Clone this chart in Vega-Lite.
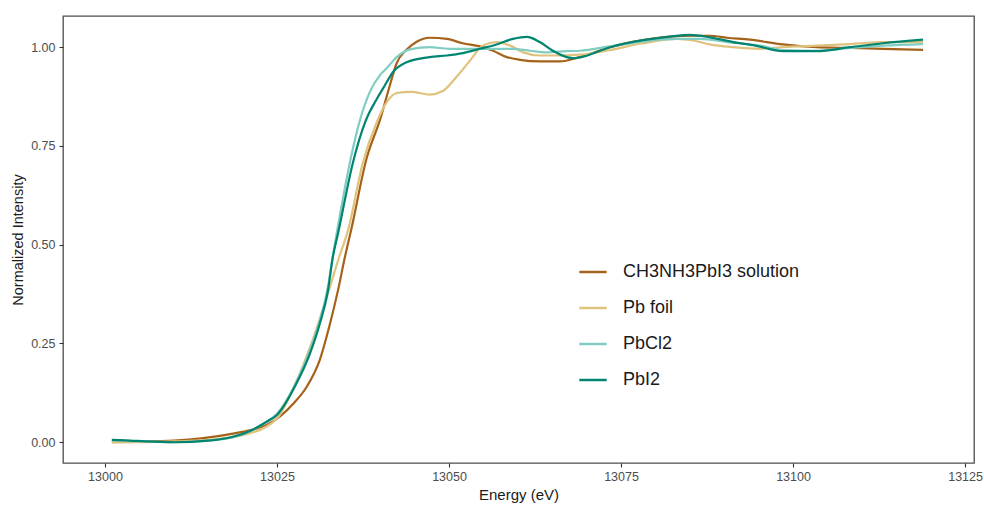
{
  "$schema": "https://vega.github.io/schema/vega-lite/v6.json",
  "width": 911,
  "height": 447,
  "autosize": {"type": "none"},
  "padding": {"left": 63, "top": 16, "right": 10, "bottom": 42},
  "background": "white",
  "config": {
    "font": "Liberation Sans",
    "view": {"stroke": "#4d4d4d", "strokeWidth": 1.3}
  },
  "data": {"values": [
    {"sample": "CH3NH3PbI3 solution", "energy": 13001, "intensity": 0.000},
    {"sample": "CH3NH3PbI3 solution", "energy": 13005, "intensity": 0.001},
    {"sample": "CH3NH3PbI3 solution", "energy": 13010, "intensity": 0.004},
    {"sample": "CH3NH3PbI3 solution", "energy": 13014, "intensity": 0.010},
    {"sample": "CH3NH3PbI3 solution", "energy": 13018.6, "intensity": 0.022},
    {"sample": "CH3NH3PbI3 solution", "energy": 13021, "intensity": 0.030},
    {"sample": "CH3NH3PbI3 solution", "energy": 13023.5, "intensity": 0.044},
    {"sample": "CH3NH3PbI3 solution", "energy": 13025.4, "intensity": 0.065},
    {"sample": "CH3NH3PbI3 solution", "energy": 13027.5, "intensity": 0.100},
    {"sample": "CH3NH3PbI3 solution", "energy": 13029.3, "intensity": 0.140},
    {"sample": "CH3NH3PbI3 solution", "energy": 13031.25, "intensity": 0.210},
    {"sample": "CH3NH3PbI3 solution", "energy": 13032.6, "intensity": 0.293},
    {"sample": "CH3NH3PbI3 solution", "energy": 13033.9, "intensity": 0.387},
    {"sample": "CH3NH3PbI3 solution", "energy": 13034.8, "intensity": 0.463},
    {"sample": "CH3NH3PbI3 solution", "energy": 13035.8, "intensity": 0.539},
    {"sample": "CH3NH3PbI3 solution", "energy": 13038.0, "intensity": 0.717},
    {"sample": "CH3NH3PbI3 solution", "energy": 13040.0, "intensity": 0.818},
    {"sample": "CH3NH3PbI3 solution", "energy": 13041.4, "intensity": 0.903},
    {"sample": "CH3NH3PbI3 solution", "energy": 13042.4, "intensity": 0.960},
    {"sample": "CH3NH3PbI3 solution", "energy": 13043.85, "intensity": 0.994},
    {"sample": "CH3NH3PbI3 solution", "energy": 13045.3, "intensity": 1.014},
    {"sample": "CH3NH3PbI3 solution", "energy": 13047.2, "intensity": 1.024},
    {"sample": "CH3NH3PbI3 solution", "energy": 13049.7, "intensity": 1.021},
    {"sample": "CH3NH3PbI3 solution", "energy": 13052.0, "intensity": 1.010},
    {"sample": "CH3NH3PbI3 solution", "energy": 13054.5, "intensity": 1.002},
    {"sample": "CH3NH3PbI3 solution", "energy": 13056.4, "intensity": 0.991},
    {"sample": "CH3NH3PbI3 solution", "energy": 13058.4, "intensity": 0.975},
    {"sample": "CH3NH3PbI3 solution", "energy": 13060.3, "intensity": 0.968},
    {"sample": "CH3NH3PbI3 solution", "energy": 13063.2, "intensity": 0.964},
    {"sample": "CH3NH3PbI3 solution", "energy": 13066.1, "intensity": 0.964},
    {"sample": "CH3NH3PbI3 solution", "energy": 13069.0, "intensity": 0.975},
    {"sample": "CH3NH3PbI3 solution", "energy": 13073.4, "intensity": 1.000},
    {"sample": "CH3NH3PbI3 solution", "energy": 13078.2, "intensity": 1.018},
    {"sample": "CH3NH3PbI3 solution", "energy": 13082.1, "intensity": 1.027},
    {"sample": "CH3NH3PbI3 solution", "energy": 13085.5, "intensity": 1.029},
    {"sample": "CH3NH3PbI3 solution", "energy": 13087.9, "intensity": 1.029},
    {"sample": "CH3NH3PbI3 solution", "energy": 13090.4, "intensity": 1.024},
    {"sample": "CH3NH3PbI3 solution", "energy": 13093.75, "intensity": 1.019},
    {"sample": "CH3NH3PbI3 solution", "energy": 13098.55, "intensity": 1.007},
    {"sample": "CH3NH3PbI3 solution", "energy": 13103.4, "intensity": 1.000},
    {"sample": "CH3NH3PbI3 solution", "energy": 13108.3, "intensity": 0.998},
    {"sample": "CH3NH3PbI3 solution", "energy": 13113.1, "intensity": 0.996},
    {"sample": "CH3NH3PbI3 solution", "energy": 13118.9, "intensity": 0.993},

    {"sample": "Pb foil", "energy": 13001, "intensity": 0.000},
    {"sample": "Pb foil", "energy": 13005, "intensity": 0.000},
    {"sample": "Pb foil", "energy": 13010, "intensity": 0.002},
    {"sample": "Pb foil", "energy": 13015, "intensity": 0.006},
    {"sample": "Pb foil", "energy": 13020, "intensity": 0.018},
    {"sample": "Pb foil", "energy": 13023.5, "intensity": 0.040},
    {"sample": "Pb foil", "energy": 13025, "intensity": 0.060},
    {"sample": "Pb foil", "energy": 13027.6, "intensity": 0.145},
    {"sample": "Pb foil", "energy": 13030.2, "intensity": 0.260},
    {"sample": "Pb foil", "energy": 13032.2, "intensity": 0.365},
    {"sample": "Pb foil", "energy": 13034.0, "intensity": 0.467},
    {"sample": "Pb foil", "energy": 13035.3, "intensity": 0.535},
    {"sample": "Pb foil", "energy": 13037.5, "intensity": 0.709},
    {"sample": "Pb foil", "energy": 13039.5, "intensity": 0.810},
    {"sample": "Pb foil", "energy": 13040.95, "intensity": 0.861},
    {"sample": "Pb foil", "energy": 13042.4, "intensity": 0.884},
    {"sample": "Pb foil", "energy": 13044.5, "intensity": 0.887},
    {"sample": "Pb foil", "energy": 13047.2, "intensity": 0.880},
    {"sample": "Pb foil", "energy": 13049.1, "intensity": 0.889},
    {"sample": "Pb foil", "energy": 13051.1, "intensity": 0.925},
    {"sample": "Pb foil", "energy": 13053.05, "intensity": 0.966},
    {"sample": "Pb foil", "energy": 13054.9, "intensity": 1.004},
    {"sample": "Pb foil", "energy": 13056.9, "intensity": 1.013},
    {"sample": "Pb foil", "energy": 13058.9, "intensity": 1.004},
    {"sample": "Pb foil", "energy": 13060.8, "intensity": 0.987},
    {"sample": "Pb foil", "energy": 13063.2, "intensity": 0.979},
    {"sample": "Pb foil", "energy": 13066.1, "intensity": 0.979},
    {"sample": "Pb foil", "energy": 13069.0, "intensity": 0.981},
    {"sample": "Pb foil", "energy": 13073.4, "intensity": 0.993},
    {"sample": "Pb foil", "energy": 13078.2, "intensity": 1.010},
    {"sample": "Pb foil", "energy": 13083.1, "intensity": 1.021},
    {"sample": "Pb foil", "energy": 13085.5, "intensity": 1.017},
    {"sample": "Pb foil", "energy": 13087.9, "intensity": 1.007},
    {"sample": "Pb foil", "energy": 13091.3, "intensity": 1.000},
    {"sample": "Pb foil", "energy": 13095.2, "intensity": 0.996},
    {"sample": "Pb foil", "energy": 13098.55, "intensity": 1.000},
    {"sample": "Pb foil", "energy": 13103.4, "intensity": 1.004},
    {"sample": "Pb foil", "energy": 13108.3, "intensity": 1.008},
    {"sample": "Pb foil", "energy": 13113.1, "intensity": 1.013},
    {"sample": "Pb foil", "energy": 13118.9, "intensity": 1.013},

    {"sample": "PbCl2", "energy": 13001, "intensity": 0.005},
    {"sample": "PbCl2", "energy": 13005, "intensity": 0.002},
    {"sample": "PbCl2", "energy": 13010, "intensity": 0.000},
    {"sample": "PbCl2", "energy": 13015, "intensity": 0.004},
    {"sample": "PbCl2", "energy": 13020, "intensity": 0.020},
    {"sample": "PbCl2", "energy": 13023.5, "intensity": 0.052},
    {"sample": "PbCl2", "energy": 13025, "intensity": 0.072},
    {"sample": "PbCl2", "energy": 13027.6, "intensity": 0.145},
    {"sample": "PbCl2", "energy": 13029.8, "intensity": 0.233},
    {"sample": "PbCl2", "energy": 13031.25, "intensity": 0.310},
    {"sample": "PbCl2", "energy": 13032.4, "intensity": 0.393},
    {"sample": "PbCl2", "energy": 13033.1, "intensity": 0.470},
    {"sample": "PbCl2", "energy": 13033.7, "intensity": 0.531},
    {"sample": "PbCl2", "energy": 13035.6, "intensity": 0.709},
    {"sample": "PbCl2", "energy": 13037.1, "intensity": 0.818},
    {"sample": "PbCl2", "energy": 13038.5, "intensity": 0.887},
    {"sample": "PbCl2", "energy": 13040.0, "intensity": 0.930},
    {"sample": "PbCl2", "energy": 13040.95, "intensity": 0.947},
    {"sample": "PbCl2", "energy": 13042.4, "intensity": 0.975},
    {"sample": "PbCl2", "energy": 13044.5, "intensity": 0.995},
    {"sample": "PbCl2", "energy": 13047.2, "intensity": 1.000},
    {"sample": "PbCl2", "energy": 13050, "intensity": 0.996},
    {"sample": "PbCl2", "energy": 13055, "intensity": 0.996},
    {"sample": "PbCl2", "energy": 13059.3, "intensity": 0.996},
    {"sample": "PbCl2", "energy": 13061.8, "intensity": 0.991},
    {"sample": "PbCl2", "energy": 13064.2, "intensity": 0.987},
    {"sample": "PbCl2", "energy": 13067.1, "intensity": 0.990},
    {"sample": "PbCl2", "energy": 13069.0, "intensity": 0.991},
    {"sample": "PbCl2", "energy": 13073.4, "intensity": 1.002},
    {"sample": "PbCl2", "energy": 13078.2, "intensity": 1.015},
    {"sample": "PbCl2", "energy": 13083.1, "intensity": 1.021},
    {"sample": "PbCl2", "energy": 13086.5, "intensity": 1.021},
    {"sample": "PbCl2", "energy": 13090.4, "intensity": 1.013},
    {"sample": "PbCl2", "energy": 13095.2, "intensity": 1.004},
    {"sample": "PbCl2", "energy": 13098.55, "intensity": 0.993},
    {"sample": "PbCl2", "energy": 13103.4, "intensity": 0.991},
    {"sample": "PbCl2", "energy": 13108.3, "intensity": 0.998},
    {"sample": "PbCl2", "energy": 13113.1, "intensity": 1.004},
    {"sample": "PbCl2", "energy": 13118.9, "intensity": 1.008},

    {"sample": "PbI2", "energy": 13001, "intensity": 0.006},
    {"sample": "PbI2", "energy": 13003, "intensity": 0.005},
    {"sample": "PbI2", "energy": 13006, "intensity": 0.002},
    {"sample": "PbI2", "energy": 13010, "intensity": 0.000},
    {"sample": "PbI2", "energy": 13015, "intensity": 0.004},
    {"sample": "PbI2", "energy": 13018.6, "intensity": 0.014},
    {"sample": "PbI2", "energy": 13021, "intensity": 0.028},
    {"sample": "PbI2", "energy": 13023.5, "intensity": 0.052},
    {"sample": "PbI2", "energy": 13025.0, "intensity": 0.069},
    {"sample": "PbI2", "energy": 13027.6, "intensity": 0.141},
    {"sample": "PbI2", "energy": 13029.8, "intensity": 0.225},
    {"sample": "PbI2", "energy": 13031.25, "intensity": 0.302},
    {"sample": "PbI2", "energy": 13032.4, "intensity": 0.383},
    {"sample": "PbI2", "energy": 13033.1, "intensity": 0.467},
    {"sample": "PbI2", "energy": 13033.9, "intensity": 0.531},
    {"sample": "PbI2", "energy": 13036.05, "intensity": 0.709},
    {"sample": "PbI2", "energy": 13037.8, "intensity": 0.810},
    {"sample": "PbI2", "energy": 13039.5, "intensity": 0.869},
    {"sample": "PbI2", "energy": 13040.4, "intensity": 0.895},
    {"sample": "PbI2", "energy": 13041.9, "intensity": 0.938},
    {"sample": "PbI2", "energy": 13043.85, "intensity": 0.962},
    {"sample": "PbI2", "energy": 13047.2, "intensity": 0.975},
    {"sample": "PbI2", "energy": 13049.7, "intensity": 0.979},
    {"sample": "PbI2", "energy": 13052.0, "intensity": 0.985},
    {"sample": "PbI2", "energy": 13054.5, "intensity": 0.996},
    {"sample": "PbI2", "energy": 13056.9, "intensity": 1.007},
    {"sample": "PbI2", "energy": 13059.3, "intensity": 1.021},
    {"sample": "PbI2", "energy": 13061.3, "intensity": 1.026},
    {"sample": "PbI2", "energy": 13063.2, "intensity": 1.013},
    {"sample": "PbI2", "energy": 13065.1, "intensity": 0.991},
    {"sample": "PbI2", "energy": 13067.1, "intensity": 0.975},
    {"sample": "PbI2", "energy": 13068.2, "intensity": 0.972},
    {"sample": "PbI2", "energy": 13069.5, "intensity": 0.976},
    {"sample": "PbI2", "energy": 13073.4, "intensity": 1.000},
    {"sample": "PbI2", "energy": 13078.2, "intensity": 1.018},
    {"sample": "PbI2", "energy": 13082.1, "intensity": 1.027},
    {"sample": "PbI2", "energy": 13085.0, "intensity": 1.031},
    {"sample": "PbI2", "energy": 13087.9, "intensity": 1.025},
    {"sample": "PbI2", "energy": 13091.3, "intensity": 1.013},
    {"sample": "PbI2", "energy": 13094.5, "intensity": 1.004},
    {"sample": "PbI2", "energy": 13098.55, "intensity": 0.990},
    {"sample": "PbI2", "energy": 13103.4, "intensity": 0.990},
    {"sample": "PbI2", "energy": 13108.3, "intensity": 1.000},
    {"sample": "PbI2", "energy": 13113.1, "intensity": 1.010},
    {"sample": "PbI2", "energy": 13118.9, "intensity": 1.019}
  ]},
  "mark": {"type": "line", "strokeWidth": 2.2, "interpolate": "monotone", "clip": true},
  "encoding": {
    "x": {
      "field": "energy", "type": "quantitative",
      "scale": {"domain": [12993.9, 13126.3], "nice": false, "zero": false},
      "axis": {
        "title": "Energy (eV)", "values": [13000, 13025, 13050, 13075, 13100, 13125],
        "format": "d", "grid": false, "domain": false,
        "ticks": true, "tickSize": 4, "tickColor": "#333333", "tickWidth": 1.1,
        "labelFontSize": 12.5, "labelColor": "#4d4d4d", "labelPadding": 3,
        "titleFontSize": 15, "titleFontWeight": "normal", "titleColor": "#1a1a1a", "titlePadding": 5
      }
    },
    "y": {
      "field": "intensity", "type": "quantitative",
      "scale": {"domain": [-0.0525, 1.079], "nice": false, "zero": false},
      "axis": {
        "title": "Normalized Intensity", "values": [0, 0.25, 0.5, 0.75, 1],
        "format": ".2f", "grid": false, "domain": false,
        "ticks": true, "tickSize": 4, "tickColor": "#333333", "tickWidth": 1.1,
        "labelFontSize": 12.5, "labelColor": "#4d4d4d", "labelPadding": 4,
        "titleFontSize": 14.5, "titleFontWeight": "normal", "titleColor": "#1a1a1a", "titlePadding": 5
      }
    },
    "color": {
      "field": "sample", "type": "nominal",
      "scale": {
        "domain": ["CH3NH3PbI3 solution", "Pb foil", "PbCl2", "PbI2"],
        "range": ["#a6611a", "#dfc27d", "#80cdc1", "#018571"]
      },
      "legend": {
        "title": null, "orient": "none", "legendX": 515, "legendY": 241,
        "padding": 0, "symbolType": "stroke", "symbolSize": 750, "symbolStrokeWidth": 2.5,
        "labelFontSize": 18, "labelLimit": 0, "labelColor": "#1a1a1a", "labelOffset": 15, "rowPadding": 12
      }
    }
  }
}
